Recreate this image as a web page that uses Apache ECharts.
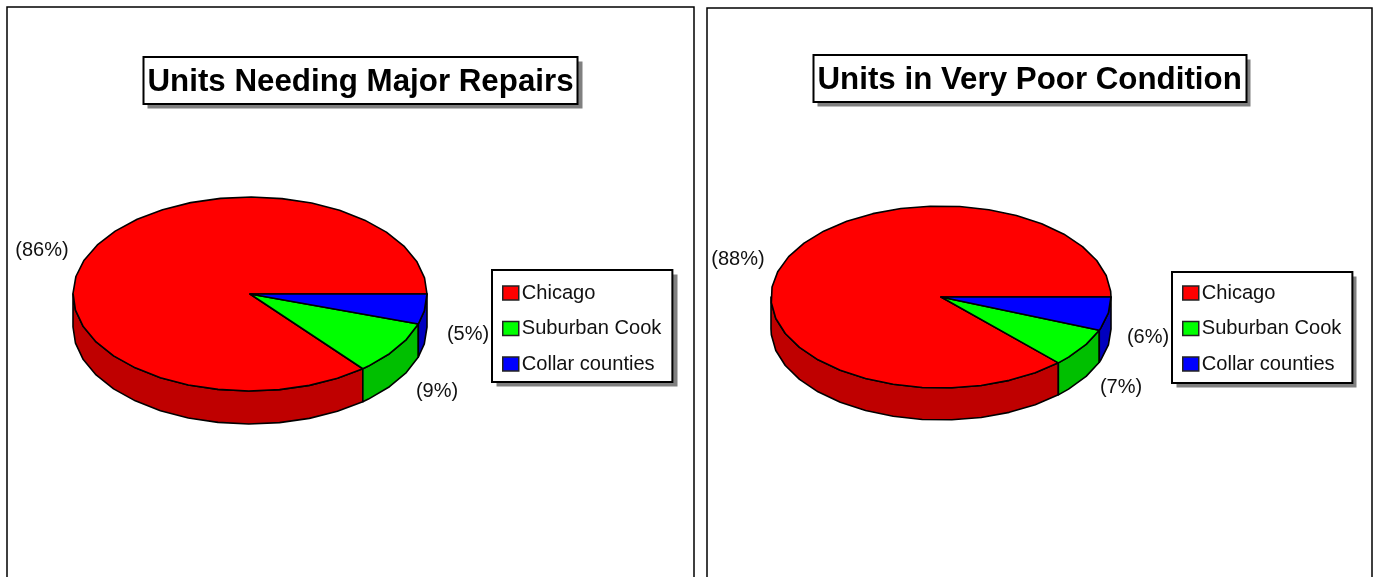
<!DOCTYPE html>
<html>
<head>
<meta charset="utf-8">
<title>Units</title>
<script src="https://cdn.jsdelivr.net/npm/echarts@6/dist/echarts.min.js"></script>
<style>
html,body{margin:0;padding:0;background:#fff;overflow:hidden}
#chart{width:1377px;height:577px}
</style>
</head>
<body>
<div id="chart"></div>
<script>
var categories=["Chicago","Suburban Cook","Collar counties"];
var repairsShares=[86,9,5];
var conditionShares=[88,7,6];
var sliceColors=["#ff0000","#00ff00","#0000ff"];
var wallColors=["#bf0000","#00bf00","#0000bf"];

var fontName='"Liberation Sans",Arial,sans-serif';

//两个图的布局
var panels=[
    {shares:repairsShares,cx:250,cy:294,rx:177,ry:97,depth:33,
     labelPos:[[42,250],[437,391],[468,334]]},
    {shares:conditionShares,cx:941,cy:297,rx:170,ry:91,depth:32,
     labelPos:[[738,259],[1121,387],[1148,337]]}
];

//切片的起止角度,从3点钟方向顺时针,顺序是后面的类别在前
function sliceAngles(shares,index){
    var total=0,before=0;
    for(var i=0;i<shares.length;i++){
        total+=shares[i];
        if(i>index) before+=shares[i];
    }
    return [before/total*Math.PI*2,(before+shares[index])/total*Math.PI*2];
}

function arcPoints(panel,a0,a1,offsetY){
    var step=Math.PI/18,pts=[],a=a0;
    while(a<a1){
        pts.push([panel.cx+panel.rx*Math.cos(a),panel.cy+offsetY+panel.ry*Math.sin(a)]);
        a+=step;
    }
    pts.push([panel.cx+panel.rx*Math.cos(a1),panel.cy+offsetY+panel.ry*Math.sin(a1)]);
    return pts;
}

function makeRender(panel,index){
    return function(params,api){
        var ang=sliceAngles(panel.shares,index);
        var children=[];
        var edgeStyle={stroke:"#000",lineWidth:1.6,lineJoin:"round"};
        //侧面只画前半圈
        if(ang[0]<Math.PI){
            var front=arcPoints(panel,ang[0],Math.min(ang[1],Math.PI),0);
            var back=arcPoints(panel,ang[0],Math.min(ang[1],Math.PI),panel.depth).reverse();
            children.push({
                type:"polygon",
                shape:{points:front.concat(back)},
                style:Object.assign({fill:wallColors[index]},edgeStyle)
            });
        }
        var top=[[panel.cx,panel.cy]].concat(arcPoints(panel,ang[0],ang[1],0));
        children.push({
            type:"polygon",
            shape:{points:top},
            style:Object.assign({fill:sliceColors[index]},edgeStyle)
        });
        children.push({
            type:"text",
            style:{
                x:panel.labelPos[index][0],
                y:panel.labelPos[index][1],
                text:"("+panel.shares[index]+"%)",
                fill:"#111",
                font:"20px "+fontName,
                align:"center",
                verticalAlign:"middle"
            }
        });
        return {type:"group",children:children};
    };
}

function $each(list,fn){
    for(var i=0;i<list.length;i++) fn(list[i],i);
}

var series=[];
$each(panels,function(panel){
    $each(categories,function(name,j){
        series.push({
            type:"custom",
            name:name,
            coordinateSystem:"none",
            silent:true,
            animation:false,
            itemStyle:{color:sliceColors[j]},
            data:[panel.shares[j]],
            renderItem:makeRender(panel,j)
        });
    });
});

function makeTitle(text,left,top){
    return {
        text:text,
        left:left,
        top:top,
        padding:[9,4.5,6,4.5],
        backgroundColor:"#fff",
        borderColor:"#000",
        borderWidth:2,
        textStyle:{color:"#000",fontFamily:fontName,fontWeight:"bold",fontSize:31.3,lineHeight:32}
    };
}

function makeLegend(left,top,padTop,padBottom){
    return {
        data:categories,
        orient:"vertical",
        left:left,
        top:top,
        selectedMode:false,
        padding:[padTop,11,padBottom,10],
        itemWidth:16,
        itemHeight:14,
        itemGap:12.5,
        icon:"rect",
        backgroundColor:"#fff",
        borderColor:"#000",
        borderWidth:2,
        itemStyle:{borderColor:"#222",borderWidth:1.5},
        textStyle:{color:"#111",fontFamily:fontName,fontSize:20.1,lineHeight:23,padding:[0,0,0,-2]}
    };
}

//标题和图例的灰色阴影
function shadowBox(x,y,w,h){
    return {type:"rect",shape:{x:x+4.5,y:y+4.5,width:w,height:h},style:{fill:"#808080"},silent:true,z:1};
}

var myChart=echarts.init(document.getElementById("chart"),null,{renderer:"canvas"});
myChart.setOption({
    animation:false,
    backgroundColor:"#fff",
    title:[makeTitle("Units Needing Major Repairs",143,57),makeTitle("Units in Very Poor Condition",813,55)],
    legend:[makeLegend(492,270,11.5,6.5),makeLegend(1172,272,9.5,7.5)],
    graphic:[
        {type:"rect",shape:{x:7,y:7,width:687,height:620},style:{fill:"none",stroke:"#000",lineWidth:1.5},silent:true,z:0},
        {type:"rect",shape:{x:707,y:8,width:665,height:620},style:{fill:"none",stroke:"#000",lineWidth:1.5},silent:true,z:0},
        shadowBox(143,57,435,47),
        shadowBox(813,55,433,47),
        shadowBox(492,270,181,112),
        shadowBox(1172,272,180,111)
    ],
    series:series
});
</script>
</body>
</html>
